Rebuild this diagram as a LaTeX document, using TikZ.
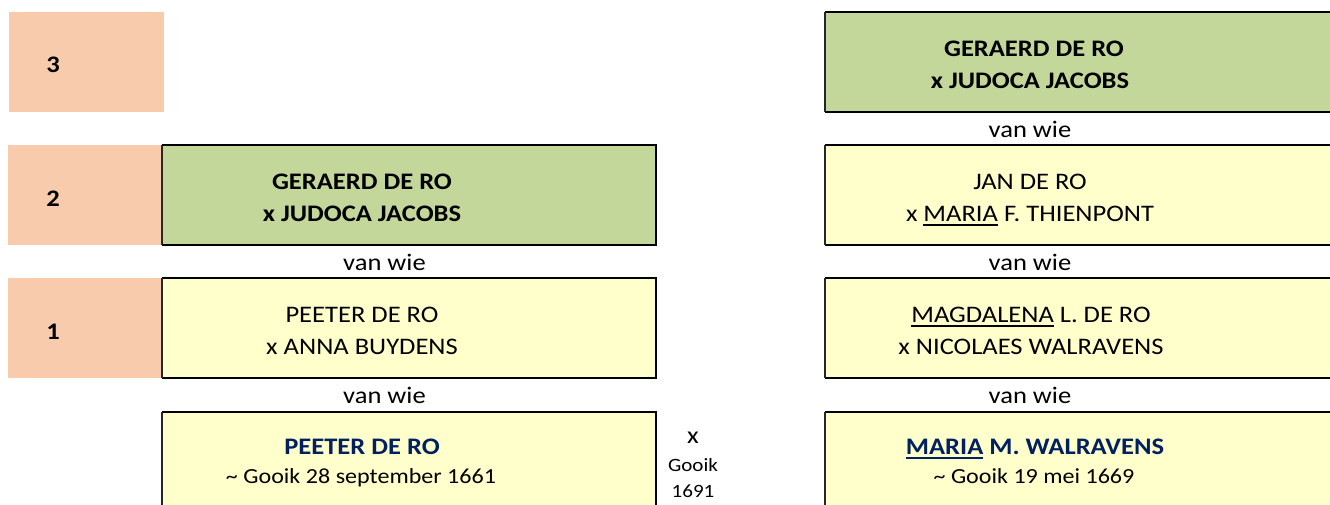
\documentclass[tikz,border=0pt]{standalone}
\usepackage{fontspec}
\setmainfont{Carlito}[FakeStretch=1.12]
\definecolor{peachc}{HTML}{F8CBAD}
\definecolor{greenc}{HTML}{C4D79B}
\definecolor{yellowc}{HTML}{FFFFCC}
\definecolor{navyc}{HTML}{002060}
\newcommand\myul[1]{\setbox0\hbox{#1}\rlap{\rule[-4.5pt]{\wd0}{1.6pt}}\box0\relax}
\tikzset{
  gen/.style={fill=peachc, draw=none, inner sep=0, anchor=north west},
  lbox/.style={draw=none, inner sep=0, anchor=north west, minimum width=494pt, minimum height=100pt},
  rbox/.style={draw=none, inner sep=0, anchor=north west, minimum width=575pt, minimum height=100pt},
  edge/.style={line width=2pt, black},
  thinedge/.style={line width=1.3pt, black!85},
  txt/.style={inner sep=0, anchor=base, font=\fontsize{23.7}{28}\selectfont},
  btxt/.style={txt, font=\fontsize{23.7}{28}\selectfont\bfseries},
  ntxt/.style={txt, font=\fontsize{23.7}{28}\selectfont\bfseries, text=navyc},
  dtxt/.style={txt, font=\fontsize{21.5}{26}\selectfont},
  stxt/.style={txt, font=\fontsize{18.8}{24}\selectfont},
}
\begin{document}
\begin{tikzpicture}[x=1pt, y=-1pt]
\useasboundingbox (0,0) rectangle (1330,504);
\clip (0,0) rectangle (1330,504);
\fill[white] (0,0) rectangle (1330,504);

% generation labels
\node[gen, minimum width=155pt, minimum height=100pt] (g3) at (9,12) {};
\node[gen, minimum width=154pt, minimum height=100pt] (g2) at (8,145) {};
\node[gen, minimum width=154pt, minimum height=100pt] (g1) at (8,278) {};
\node[btxt] (n3) at (53,72) {3};
\node[btxt] (n2) at (53,206) {2};
\node[btxt] (n1) at (53,339) {1};

% left boxes
\node[lbox, fill=greenc] (L2) at (162,145) {};
\node[lbox, fill=yellowc] (L1) at (162,278) {};
\node[lbox, fill=yellowc, minimum height=150pt] (L0) at (162,412) {};
% right boxes
\node[rbox, fill=greenc] (R3) at (825,12) {};
\node[rbox, fill=yellowc] (R2) at (825,145) {};
\node[rbox, fill=yellowc] (R1) at (825,278) {};
\node[rbox, fill=yellowc, minimum height=150pt] (R0) at (825,412) {};

\foreach \b in {L2,L1,L0}{
  \draw[edge] (\b.north west) -- (\b.north east) -- (\b.south east) -- (\b.south west);
  \draw[thinedge] (\b.north west) -- (\b.south west);
}
\foreach \b in {R3,R2,R1,R0}{
  \draw[edge] (\b.north east) -- (\b.north west) (\b.south west) -- (\b.south east);
  \draw[thinedge] (\b.north west) -- (\b.south west);
}

% left texts
\node[btxt] (l2a) at (362,189) {GERAERD DE RO};
\node[btxt] (l2b) at (362,221) {x JUDOCA JACOBS};
\node[txt] (lv1) at (384.5,270) {van wie};
\node[txt] (l1a) at (362,322) {PEETER DE RO};
\node[txt] (l1b) at (362,354) {x ANNA BUYDENS};
\node[txt] (lv0) at (384.5,403) {van wie};
\node[ntxt] (l0a) at (362,454) {PEETER DE RO};
\node[dtxt] (l0b) at (361,483) {\textasciitilde{} Gooik 28 september 1661};

% marriage
\node[txt, font=\fontsize{24}{30}\selectfont] (mx) at (693,443) {x};
\node[stxt] (mg) at (693,471) {Gooik};
\node[stxt] (my) at (693,497) {1691};

% right texts
\node[btxt] (r3a) at (1034,56) {GERAERD DE RO};
\node[btxt] (r3b) at (1030,88) {x JUDOCA JACOBS};
\node[txt] (rv2) at (1030,137) {van wie};
\node[txt] (r2a) at (1030,189) {JAN DE RO};
\node[txt] (r2b) at (1030,221) {x \myul{MARIA} F. THIENPONT};
\node[txt] (rv1) at (1030,270) {van wie};
\node[txt] (r1a) at (1031,322) {\myul{MAGDALENA} L. DE RO};
\node[txt] (r1b) at (1031,354) {x NICOLAES WALRAVENS};
\node[txt] (rv0) at (1030,403) {van wie};
\node[ntxt] (r0a) at (1035,454) {\myul{MARIA} M. WALRAVENS};
\node[dtxt] (r0b) at (1034,483) {\textasciitilde{} Gooik 19 mei 1669};
\end{tikzpicture}
\end{document}
